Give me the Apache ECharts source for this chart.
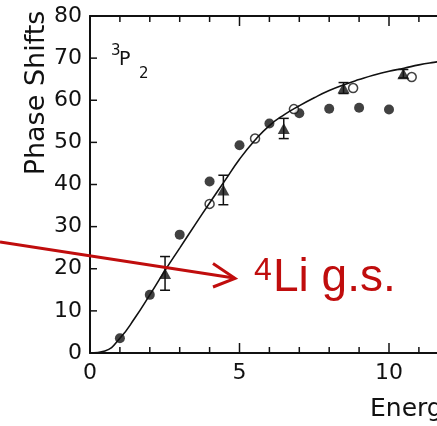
<!DOCTYPE html>
<html><head><meta charset="utf-8">
<script src="https://cdn.jsdelivr.net/npm/echarts/dist/echarts.min.js"></script>
<style>html,body{margin:0;padding:0;background:#fff}#c{width:437px;height:426px;background:#fff}</style>
</head><body><div id="c"></div>
<script>
// Data (3P2 phase shifts vs energy)
const filledCircles = [[1,3.5],[2,13.8],[3,28.1],[4,40.7],[5,49.3],[6,54.5],[7,56.9],[8,58.0],[9,58.2],[10,57.8]];
const openCircles = [[4,35.4],[5.52,50.9],[6.82,57.9],[8.8,62.9],[10.76,65.5]];
// [x, y, error]
const triangles = [[2.51,18.9,4.0],[4.46,38.7,3.5],[6.48,53.3,2.4],[8.48,62.9,1.3],[10.48,66.3,1.0]];
const curveX = [0,0.5,1,1.5,2,2.5,3,3.5,4,4.5,5,5.5,6,6.5,7,7.5,8,8.5,9,9.5,10,10.5,11,11.5,12,13];
const curveY = [0,0.5,3.5,8.3,13.8,19.5,24.9,30.3,35.6,40.8,46.0,50.4,54.0,56.6,58.7,60.6,62.3,63.7,64.9,66.0,66.9,67.6,68.4,69.0,69.5,70.4];
const xTickValues = [0,1,2,3,4,5,6,7,8,9,10,11,12,13,14,15];
const yTickValues = [0,10,20,30,40,50,60,70,80];
const xTickLabels = ['0','5','10','15'];
const yTickLabels = ['0','10','20','30','40','50','60','70','80'];
const yAxisTitle = 'Phase Shifts';
const xAxisTitle = 'Energy (MeV)';
const waveLabel = ['3','P','2'];
const annotation = ['4','Li g.s.'];

const chart = echarts.init(document.getElementById('c'));
const black = '#111';
const red = '#c00d0d';
const curve = curveX.map((x,i)=>[x,curveY[i]]);
const X_MIN = 0, X_MAX = 15, Y_MIN = 0, Y_MAX = 80;
const G = {left:90, top:16, width:448.5, height:337};

function xAxisDef(pos, labels){
  return {type:'value', min:X_MIN, max:X_MAX, interval:5, position:pos,
    axisLine:{show:true, onZero:false, lineStyle:{color:black, width:2}},
    axisTick:{show:false},
    axisLabel:labels ? {show:true, margin:9, color:black, fontSize:22, fontFamily:'DejaVu Sans',
      formatter:(v)=>xTickLabels[xTickLabels.indexOf(String(v))] || ''} : {show:false},
    splitLine:{show:false}};
}
const yAxisDef = {type:'value', min:Y_MIN, max:Y_MAX, interval:10, position:'left',
  axisLine:{show:true, onZero:false, lineStyle:{color:black, width:2}},
  axisTick:{show:false},
  axisLabel:{show:true, margin:8, color:black, fontSize:22, fontFamily:'DejaVu Sans',
    formatter:(v)=>yTickLabels[yTickLabels.indexOf(String(v))] || ''},
  splitLine:{show:false}};

function txt(text, x, y, font, color, rotation){
  return {type:'text', x:x, y:y, rotation:rotation||0,
    style:{text:text, fill:color, font:font, align:rotation ? 'center' : 'left', verticalAlign:'middle'}};
}
function seg(x1, y1, x2, y2){
  return {type:'line', shape:{x1:x1,y1:y1,x2:x2,y2:y2}, style:{stroke:black, lineWidth:1.5}};
}

chart.setOption({
  animation:false,
  grid:{left:G.left, top:G.top, width:G.width, height:G.height, outerBoundsMode:'none'},
  xAxis:[xAxisDef('bottom', true), xAxisDef('top', false)],
  yAxis:[yAxisDef],
  series:[
    {type:'line', data:curve, smooth:0.5, showSymbol:false, clip:false,
     lineStyle:{color:black, width:1.6}},
    {type:'scatter', data:filledCircles, symbol:'circle', symbolSize:10, clip:false,
     itemStyle:{color:black}},
    {type:'scatter', data:openCircles, symbol:'circle', symbolSize:9, clip:false,
     itemStyle:{color:'#fff', borderColor:black, borderWidth:1.5}},
    {type:'custom', data:triangles, encode:{x:0, y:1},
     renderItem:function(params, api){
       const x = api.value(0), y = api.value(1), e = api.value(2);
       const t = api.coord([x, y+e]), b = api.coord([x, y-e]);
       const hw = 5;
       return {type:'group', children:[
         seg(t[0], t[1], b[0], b[1]),
         seg(t[0]-hw, t[1], t[0]+hw, t[1]),
         seg(b[0]-hw, b[1], b[0]+hw, b[1])
       ]};
     }},
    {type:'scatter', data:triangles.map(d=>[d[0],d[1]]), symbol:'triangle', symbolSize:[12,11], clip:false,
     itemStyle:{color:black}},
    // titles and the red annotation (page decoration, not data)
    {type:'custom', data:[[X_MIN, Y_MIN]], encode:{x:0, y:1}, clip:false, z:10,
     renderItem:function(params, api){
       return {type:'group', children:[
         txt(yAxisTitle, 37, 93, '27px "DejaVu Sans"', black, Math.PI/2),
         txt(xAxisTitle, 370, 409, '25px "DejaVu Sans"', black),
         txt(waveLabel[0], 111, 51, '15px "DejaVu Sans"', black),
         txt(waveLabel[1], 119, 60.5, '19px "DejaVu Sans"', black),
         txt(waveLabel[2], 139, 74.5, '15px "DejaVu Sans"', black),
         {type:'line', shape:{x1:0,y1:242,x2:234,y2:278}, style:{stroke:red, lineWidth:3}},
         {type:'polyline', shape:{points:[[213,263.5],[235,278.3],[213,287]]}, style:{stroke:red, lineWidth:3, fill:'none'}},
         txt(annotation[0], 254, 271.5, '32px "Liberation Sans"', red),
         txt(annotation[1], 273, 278.5, '46px "Liberation Sans"', red)
       ]};
     }}
  ]
});

// Inward axis ticks, positioned through the chart's own scales (convertToPixel)
function px(x, y){
  let p = null;
  try { p = chart.convertToPixel({xAxisIndex:0, yAxisIndex:0}, [x, y]); } catch(e) { p = null; }
  if (!p || !isFinite(p[0]) || !isFinite(p[1])) {
    p = [G.left + (x - X_MIN) / (X_MAX - X_MIN) * G.width, G.top + G.height - (y - Y_MIN) / (Y_MAX - Y_MIN) * G.height];
  }
  return p;
}
const tickEls = [];
xTickValues.forEach(function(v){
  const b = px(v, Y_MIN), t = px(v, Y_MAX);
  const len = (v % 5 === 0) ? 10 : 6;
  tickEls.push({type:'line', z:50, shape:{x1:b[0], y1:b[1], x2:b[0], y2:b[1]-len}, style:{stroke:black, lineWidth:1.5}});
  tickEls.push({type:'line', z:50, shape:{x1:t[0], y1:t[1], x2:t[0], y2:t[1]+len}, style:{stroke:black, lineWidth:1.5}});
});
yTickValues.forEach(function(v){
  const p = px(X_MIN, v);
  tickEls.push({type:'line', z:50, shape:{x1:p[0], y1:p[1], x2:p[0]+7, y2:p[1]}, style:{stroke:black, lineWidth:1.5}});
});
chart.setOption({graphic:{elements:tickEls}});
</script></body></html>
